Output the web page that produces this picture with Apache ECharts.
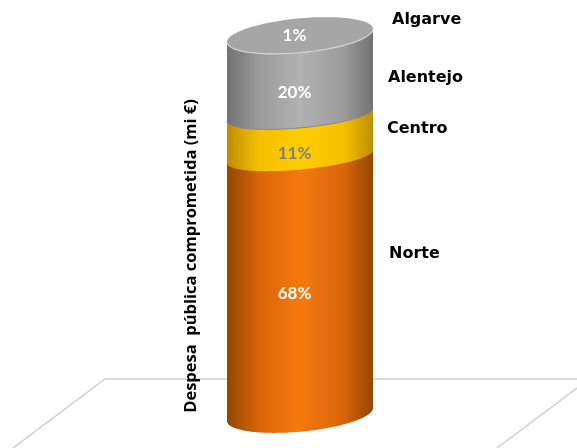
<!DOCTYPE html>
<html>
<head>
<meta charset="utf-8">
<style>html,body{margin:0;padding:0;background:#fff}#chart{width:577px;height:448px}</style>
<script src="https://cdn.jsdelivr.net/npm/echarts@6/dist/echarts.min.js"></script>
</head>
<body>
<div id="chart"></div>
<script>
// Regional shares of committed public spending, stacked bottom to top
const regions = ['Norte', 'Centro', 'Alentejo', 'Algarve'];
const shares = [68, 11, 20, 1];
const axisTitle = 'Despesa  pública comprometida (mi €)';

// Side shading per region: edge, shoulder, crest
const shades = [
  ['#934700', '#d9650a', '#f5790e'],
  ['#bd8e00', '#f5c000', '#ffcc00'],
  ['#727272', '#9b9b9b', '#b2b2b2'],
  ['#727272', '#9b9b9b', '#b2b2b2']
];
const shareColors = ['#ffffff', '#7f7f7f', '#ffffff', '#ffffff'];
// Pixel nudges of the text from each segment's left-edge midpoint
const shareNudge = [1, 11, 9, -8];
const nameNudge = [-38, -14, -6, -24];
const nameX = [389, 387, 388, 392];

const TILT = 6.5;     // rise of the rim from the left side to the right side
const OUTER_MINOR = 17.2;  // vertical half-axis of the top and bottom rims
const INNER_MINOR = 12.8;  // flatter rims where two bands meet

function rimPoints(cx, cy, a, from, to, minor) {
  const pts = [];
  const n = 60;
  for (let i = 0; i <= n; i++) {
    const t = from + (to - from) * i / n;
    pts.push([cx + a * Math.cos(t), cy + minor * Math.sin(t) - TILT * Math.cos(t)]);
  }
  return pts;
}

function sideGradient(c) {
  return new echarts.graphic.LinearGradient(0, 0, 1, 0, [
    { offset: 0, color: c[0] },
    { offset: 0.22, color: c[1] },
    { offset: 0.5, color: c[2] },
    { offset: 0.8, color: c[1] },
    { offset: 1, color: c[0] }
  ]);
}

function renderSegment(params, api) {
  const i = params.dataIndex;
  const base = api.value(1);
  const top = api.value(2);
  const left = api.coord([0, base]);
  const a = api.size([1, 0])[0] / 2;
  const cx = left[0];
  const last = i === shares.length - 1;
  // The axis scale gives the height of the rim at the cylinder's left side
  const yBase = left[1] - TILT;
  const yTop = api.coord([0, top])[1] - TILT;
  const baseMinor = i === 0 ? OUTER_MINOR : INNER_MINOR;
  // The 1% band hugs the cap, so its rim shares the cap's curve
  const topMinor = i >= shares.length - 2 ? OUTER_MINOR : INNER_MINOR;
  // Each band runs a pixel under the next one so no seam shows between them
  const front = rimPoints(cx, last ? yTop : yTop - 1, a, Math.PI, 0, topMinor);
  const back = rimPoints(cx, yBase, a, 0, Math.PI, i === shares.length - 1 ? OUTER_MINOR : baseMinor);
  const mid = api.coord([0, (base + top) / 2])[1];
  const children = [{
    type: 'polygon',
    shape: { points: front.concat(back) },
    style: { fill: sideGradient(shades[i]) }
  }];
  if (regions[i] === 'Alentejo') {
    // Thin dark seam where the grey band meets the yellow one
    children.push({
      type: 'polyline',
      shape: { points: rimPoints(cx, yBase, a, Math.PI, 0, INNER_MINOR) },
      style: { stroke: '#8b8793', lineWidth: 1, fill: null }
    });
  }
  if (last) {
    children.push({
      type: 'polygon',
      shape: { points: rimPoints(cx, yTop, a, 0, Math.PI * 2, OUTER_MINOR) },
      style: { fill: '#a6a6a6' }
    }, {
      type: 'polyline',
      shape: { points: rimPoints(cx, yTop, a, Math.PI, 0, OUTER_MINOR) },
      style: { stroke: '#d4d4d4', lineWidth: 1.2, fill: null }
    });
  }
  children.push({
    type: 'text',
    z2: 10,
    style: {
      x: cx - 5.5, y: mid + shareNudge[i],
      text: shares[i] + '%',
      fill: shareColors[i],
      font: 'bold 17px Lato, "Open Sans", sans-serif',
      align: 'center', verticalAlign: 'middle'
    }
  }, {
    type: 'text',
    z2: 10,
    style: {
      x: nameX[i], y: mid + nameNudge[i],
      text: regions[i],
      fill: '#000',
      font: 'bold 16px "DejaVu Sans", sans-serif',
      align: 'left', verticalAlign: 'middle'
    }
  });
  return { type: 'group', children };
}

let running = 0;
const segments = shares.map(function (v) {
  const row = [0, running, running + v];
  running += v;
  return row;
});

const chart = echarts.init(document.getElementById('chart'), null, { renderer: 'canvas' });
chart.setOption({
  animation: false,
  backgroundColor: '#ffffff',
  grid: { left: 227, top: 42, width: 146, height: 379 },
  xAxis: { type: 'category', data: ['Regiões'], show: false },
  yAxis: {
    type: 'value', min: 0, max: 100,
    splitLine: { show: false },
    axisLine: { show: false },
    axisTick: { show: false },
    axisLabel: { show: false },
    name: axisTitle,
    nameLocation: 'middle',
    nameGap: 27,
    nameTextStyle: {
      color: '#000', fontWeight: 'bold', fontSize: 16.5,
      fontFamily: '"Open Sans", sans-serif',
      padding: [0, 49, 0, 0]
    }
  },
  // Perspective floor behind the cylinder
  graphic: [{
    type: 'polyline', z: -1,
    shape: { points: [[13, 448], [105, 379], [577, 379]] },
    style: { stroke: '#d0d0d0', lineWidth: 1.5, fill: null }
  }, {
    type: 'line', z: -1,
    shape: { x1: 577, y1: 388, x2: 497, y2: 448 },
    style: { stroke: '#d0d0d0', lineWidth: 1.5 }
  }],
  series: [{
    type: 'custom',
    renderItem: renderSegment,
    encode: { x: 0, y: [1, 2] },
    data: segments,
    silent: true
  }]
});
</script>
</body>
</html>
